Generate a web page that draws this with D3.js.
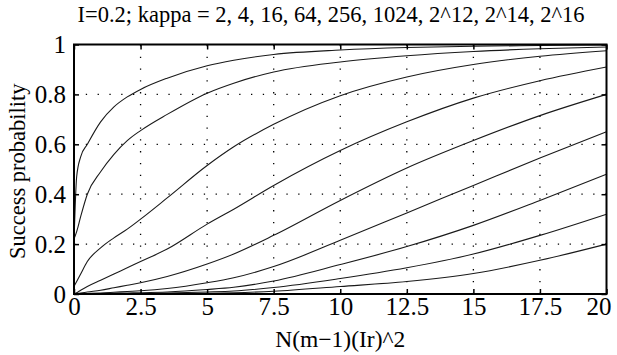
<!DOCTYPE html>
<html>
<head>
<meta charset="utf-8">
<script src="https://cdn.jsdelivr.net/npm/d3@7"></script>
<style>
  body { margin: 0; background: #fff; }
  svg text { font-family: "Liberation Serif", "Times New Roman", serif; fill: #000; }
</style>
</head>
<body>
<svg id="chart" width="617" height="355"></svg>
<script>
const title = 'I=0.2; kappa = 2, 4, 16, 64, 256, 1024, 2^12, 2^14, 2^16'
const xLabel = 'N(m\u22121)(Ir)^2'
const yLabel = 'Success probability'

const kappas = ['2', '4', '16', '64', '256', '1024', '2^12', '2^14', '2^16']
const xs = [0, 0.1, 0.25, 0.5, 1, 1.5, 2, 2.5, 3.5, 5, 6, 7.5, 10, 12.5, 15, 17.5, 20]

const pK2 = [0.21, 0.47, 0.55, 0.60, 0.69, 0.75, 0.79, 0.82, 0.865, 0.915, 0.937, 0.96, 0.978, 0.988, 0.993, 0.996, 0.998]
const pK4 = [0.22, 0.25, 0.31, 0.40, 0.49, 0.56, 0.615, 0.655, 0.72, 0.805, 0.845, 0.89, 0.93, 0.955, 0.972, 0.983, 0.99]
const pK16 = [0.03, 0.05, 0.08, 0.13, 0.185, 0.225, 0.26, 0.30, 0.385, 0.515, 0.59, 0.68, 0.795, 0.87, 0.92, 0.953, 0.975]
const pK64 = [0, 0.005, 0.015, 0.03, 0.055, 0.08, 0.105, 0.13, 0.18, 0.28, 0.34, 0.435, 0.575, 0.69, 0.785, 0.855, 0.91]
const pK256 = [0, 0.002, 0.004, 0.008, 0.015, 0.025, 0.035, 0.045, 0.07, 0.12, 0.16, 0.235, 0.375, 0.505, 0.615, 0.715, 0.80]
const pK1024 = [0, 0, 0.001, 0.002, 0.004, 0.007, 0.01, 0.013, 0.022, 0.045, 0.065, 0.11, 0.215, 0.325, 0.435, 0.545, 0.65]
const pK4096 = [0, 0, 0, 0.001, 0.002, 0.003, 0.004, 0.005, 0.008, 0.018, 0.027, 0.052, 0.118, 0.19, 0.275, 0.375, 0.48]
const pK16384 = [0, 0, 0, 0, 0.001, 0.001, 0.002, 0.002, 0.004, 0.008, 0.012, 0.026, 0.062, 0.105, 0.16, 0.235, 0.32]
const pK65536 = [0, 0, 0, 0, 0, 0, 0.001, 0.001, 0.002, 0.003, 0.005, 0.011, 0.03, 0.05, 0.082, 0.135, 0.20]

const xTicks = [0, 2.5, 5, 7.5, 10, 12.5, 15, 17.5, 20]
const yTicks = [0, 0.2, 0.4, 0.6, 0.8, 1]

const series = [pK2, pK4, pK16, pK64, pK256, pK1024, pK4096, pK16384, pK65536]
  .map((vals, i) => ({ kappa: kappas[i], points: xs.map((x, j) => [x, vals[j]]) }))

const plot = { left: 74, right: 606.5, top: 44.5, bottom: 294 }
const tickLen = 5
const serif = '"Liberation Serif", "Times New Roman", serif'

const svg = d3.select('#chart')

const x = d3.scaleLinear().domain([0, 20]).range([plot.left, plot.right])
const y = d3.scaleLinear().domain([0, 1]).range([plot.bottom, plot.top])

// dotted grid
const grid = svg.append('g')
  .attr('stroke', '#000')
  .attr('stroke-width', 1.3)
  .attr('stroke-dasharray', '1.3,10.5')
grid.selectAll('.gx')
  .data(xTicks.slice(1, -1))
  .enter().append('line')
  .attr('x1', d => x(d)).attr('x2', d => x(d))
  .attr('y1', plot.bottom).attr('y2', plot.top)
grid.selectAll('.gy')
  .data(yTicks.slice(1, -1))
  .enter().append('line')
  .attr('x1', plot.left).attr('x2', plot.right)
  .attr('y1', d => y(d)).attr('y2', d => y(d))

const line = d3.line()
  .x(d => x(d[0]))
  .y(d => y(d[1]))
  .curve(d3.curveMonotoneX)

svg.append('g')
  .selectAll('path')
  .data(series)
  .enter().append('path')
  .attr('d', d => line(d.points))
  .attr('fill', 'none')
  .attr('stroke', '#1a1a1a')
  .attr('stroke-width', 1.1)
  .append('title')
  .text(d => 'kappa = ' + d.kappa)

// axes, ticks pointing inward, box all round
const fmt = d => String(d)
const xAxisB = d3.axisBottom(x).tickValues(xTicks).tickFormat(fmt).tickSizeInner(-tickLen).tickSizeOuter(0).tickPadding(3)
const xAxisT = d3.axisTop(x).tickValues(xTicks).tickSizeInner(-tickLen).tickSizeOuter(0).tickFormat('')
const yAxisL = d3.axisLeft(y).tickValues(yTicks).tickFormat(fmt).tickSizeInner(-tickLen).tickSizeOuter(0).tickPadding(8)
const yAxisR = d3.axisRight(y).tickValues(yTicks).tickSizeInner(-tickLen).tickSizeOuter(0).tickFormat('')

const gb = svg.append('g').attr('transform', `translate(0,${plot.bottom})`).call(xAxisB)
svg.append('g').attr('transform', `translate(0,${plot.top})`).call(xAxisT)
const gl = svg.append('g').attr('transform', `translate(${plot.left},0)`).call(yAxisL)
svg.append('g').attr('transform', `translate(${plot.right},0)`).call(yAxisR)

svg.selectAll('.domain').remove()
svg.selectAll('.tick line').attr('stroke', '#000').attr('stroke-width', 1.5)
gb.selectAll('text').attr('font-size', 25).attr('fill', '#000').attr('dy', '0.71em')
  .style('font-family', serif)
  .attr('dx', d => d === 20 ? -8 : 0)
gl.selectAll('text').attr('font-size', 25).attr('fill', '#000').style('font-family', serif)

svg.append('rect')
  .attr('x', plot.left).attr('y', plot.top)
  .attr('width', plot.right - plot.left).attr('height', plot.bottom - plot.top)
  .attr('fill', 'none')
  .attr('stroke', '#000')
  .attr('stroke-width', 2)

svg.append('text')
  .attr('x', 331)
  .attr('y', 22)
  .attr('text-anchor', 'middle')
  .attr('font-size', 22.5)
  .style('font-family', serif)
  .text(title)

svg.append('text')
  .attr('x', (plot.left + plot.right) / 2)
  .attr('y', 347)
  .attr('text-anchor', 'middle')
  .attr('font-size', 23.5)
  .style('font-family', serif)
  .text(xLabel)

svg.append('text')
  .attr('transform', `translate(25,${(plot.top + plot.bottom) / 2 + 2}) rotate(-90)`)
  .attr('text-anchor', 'middle')
  .attr('font-size', 22.5)
  .style('font-family', serif)
  .text(yLabel)
</script>
</body>
</html>
